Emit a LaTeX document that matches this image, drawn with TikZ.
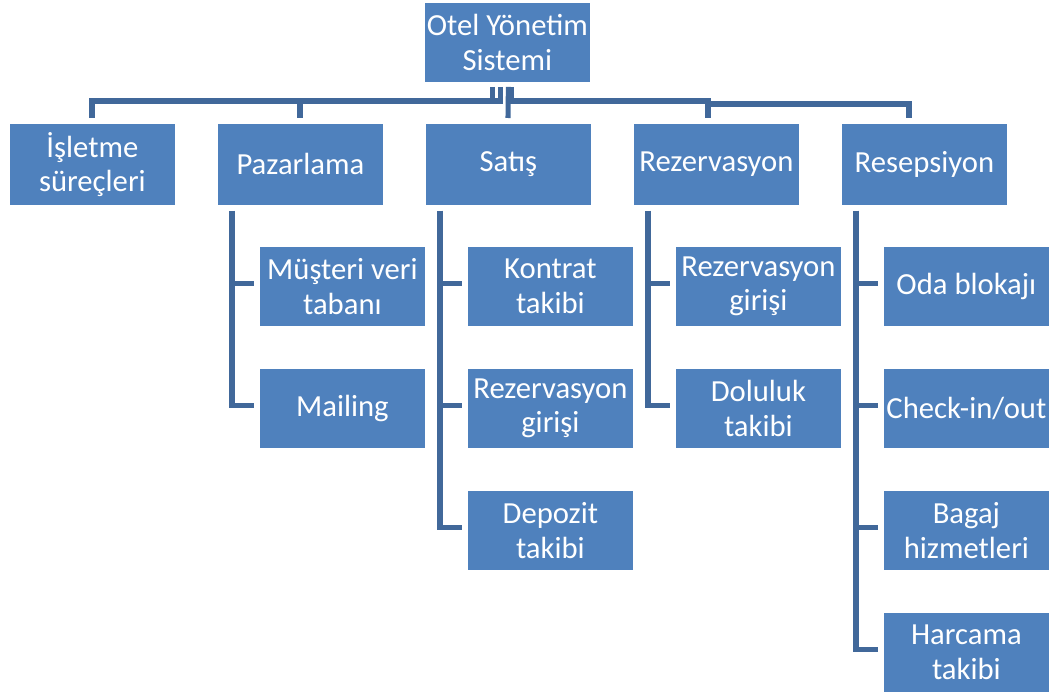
\documentclass[tikz,border=0pt]{standalone}
\usepackage{fontspec}
\setmainfont{Carlito}
\usetikzlibrary{calc}
\definecolor{boxfill}{HTML}{4F81BD}
\definecolor{linecol}{HTML}{41689A}
\begin{document}
\begin{tikzpicture}[x=0.75pt,y=-0.75pt,
  box/.style={draw=white, line width=0.6pt, fill=boxfill, text=white, anchor=north west,
    minimum width=124.5pt, inner sep=1pt, align=center,
    font=\fontsize{23}{26}\selectfont},
  lone/.style={box, minimum height=61.5pt},
  ltwo/.style={box, minimum height=60pt},
  conn/.style={draw=linecol, line width=3.8pt, line cap=butt, line join=miter}]
\useasboundingbox (0,0) rectangle (1056,695);
% root
\node[box, minimum height=60pt] (root) at (424,2) {Otel Yönetim\\Sistemi};
% level 1
\node[lone] (isl) at (9,123) {İşletme\\süreçleri};
\node[lone] (paz) at (217,123) {Pazarlama};
\node[lone] (sat) at (425,123) {Satış};
\node[lone] (rez) at (633,123) {Rezervasyon};
\node[lone] (res) at (841,123) {Resepsiyon};
% level 2
\node[ltwo] (paz1) at (259,246) {Müşteri veri\\tabanı};
\node[ltwo] (paz2) at (259,368) {Mailing};
\node[ltwo] (sat1) at (467,246) {Kontrat\\takibi};
\node[ltwo] (sat2) at (467,368) {Rezervasyon\\girişi};
\node[ltwo] (sat3) at (467,490) {Depozit\\takibi};
\node[ltwo] (rez1) at (675,246) {Rezervasyon\\girişi};
\node[ltwo] (rez2) at (675,368) {Doluluk\\takibi};
\node[ltwo] (res1) at (883,246) {Oda blokajı};
\node[ltwo] (res2) at (883,368) {Check-in/out};
\node[ltwo] (res3) at (883,490) {Bagaj\\hizmetleri};
\node[ltwo] (res4) at (883,612) {Harcama\\takibi};
% top bus
\coordinate (r1) at ($(root.south)+(-14.5,4)$);
\coordinate (r2) at ($(root.south)+(-6.5,4)$);
\coordinate (r3) at ($(root.south)+(1,4)$);
\coordinate (r4) at ($(root.south)+(4,4)$);
\draw[conn] (r1) |- ($(isl.north west)+(83,-22)$) -- ($(isl.north west)+(83,-5)$);
\draw[conn] (r2) |- ($(paz.north west)+(83,-22)$) -- ($(paz.north west)+(83,-5)$);
\draw[conn] (r3) -- ($(sat.north west)+(83,-5)$);
\draw[conn] (r4) |- ($(rez.north west)+(75,-22)$) -- ($(rez.north west)+(75,-5)$);
\draw[conn] ($(rez.north west)+(75,-22)$) -- ++(0,3) -| ($(res.north west)+(68,-5)$);
% level 2 connectors
\foreach \p/\c in {paz/paz1,paz/paz2,sat/sat1,sat/sat2,sat/sat3,rez/rez1,rez/rez2,res/res1,res/res2,res/res3,res/res4}{
  \draw[conn] ($(\p.south west)+(15,5)$) |- ($(\c.west)+(-5,-3)$);
}
\end{tikzpicture}
\end{document}
